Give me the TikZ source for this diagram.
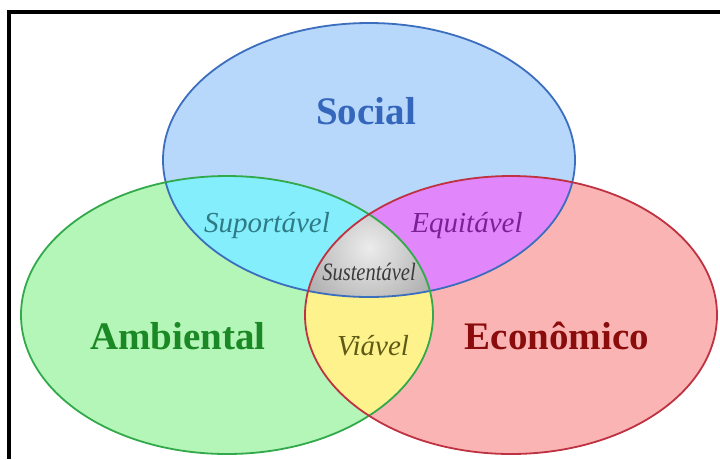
\documentclass[tikz,border=0pt]{standalone}
\usepackage{fontspec}
\setmainfont{Liberation Serif}
\newfontfamily\narrowfont{Liberation Serif}[FakeStretch=0.82]

\definecolor{socialfill}{RGB}{183,215,251}
\definecolor{ambfill}{RGB}{180,245,184}
\definecolor{ecofill}{RGB}{251,180,180}
\definecolor{cyanfill}{RGB}{132,238,252}
\definecolor{purplefill}{RGB}{225,135,251}
\definecolor{yellowfill}{RGB}{253,242,140}
\definecolor{graylight}{RGB}{236,236,236}
\definecolor{graydark}{RGB}{168,168,168}
\definecolor{socialline}{RGB}{60,110,190}
\definecolor{ambline}{RGB}{50,170,75}
\definecolor{ecoline}{RGB}{190,50,65}
\definecolor{socialtext}{RGB}{52,102,187}
\definecolor{ambtext}{RGB}{26,136,36}
\definecolor{ecotext}{RGB}{139,12,12}
\definecolor{cyantext}{RGB}{46,123,134}
\definecolor{purpletext}{RGB}{123,33,149}
\definecolor{yellowtext}{RGB}{94,90,22}
\definecolor{graytext}{RGB}{58,58,58}

\begin{document}
\begin{tikzpicture}[x=1pt,y=-1pt]

      \useasboundingbox (0,0) rectangle (720,459);
      \fill[white] (0,0) rectangle (720,459);
      \fill[black] (7,10) rectangle (720,14);
      \fill[black] (7,10) rectangle (11,459);

      \def\social{(369,160) ellipse [x radius=206,y radius=137]}
      \def\ambiental{(227,315) ellipse [x radius=206,y radius=139]}
      \def\economico{(511,315) ellipse [x radius=206,y radius=139]}

      \fill[socialfill] \social;
      \fill[ambfill] \ambiental;
      \fill[ecofill] \economico;

      \begin{scope}
        \clip \ambiental;
        \fill[yellowfill] \economico;
      \end{scope}

      \begin{scope}
        \clip \social;
        \fill[cyanfill] \ambiental;
        \fill[purplefill] \economico;
      \end{scope}

      \begin{scope}
        \clip \social;
        \clip \ambiental;
        \clip \economico;
        \shade[inner color=graylight,outer color=graydark] (369,248) circle (80);
      \end{scope}

      \begin{scope}[line width=1.8pt]
        \draw[socialline] \social;
        \draw[ambline] \ambiental;
        \draw[ecoline] \economico;
      \end{scope}

      \begin{scope}[every node/.style={anchor=base,font=\fontsize{39}{40}\selectfont\bfseries}]
        \node[text=socialtext] (1) at (366,124) {Social};
        \node[text=ambtext]    (2) at (178,349) {Ambiental};
        \node[text=ecotext]    (3) at (557,349) {Econômico};
      \end{scope}

      \begin{scope}[every node/.style={anchor=base,font=\fontsize{29}{30}\selectfont\itshape}]
        \node[text=cyantext]   (4) at (267,232) {Suportável};
        \node[text=purpletext] (5) at (467,232) {Equitável};
        \node[text=yellowtext] (6) at (373,355) {Viável};
        \node[text=graytext,font=\narrowfont\fontsize{25}{26}\selectfont\itshape] (7) at (369,280) {Sustentável};
      \end{scope}

    \end{tikzpicture}
\end{document}
